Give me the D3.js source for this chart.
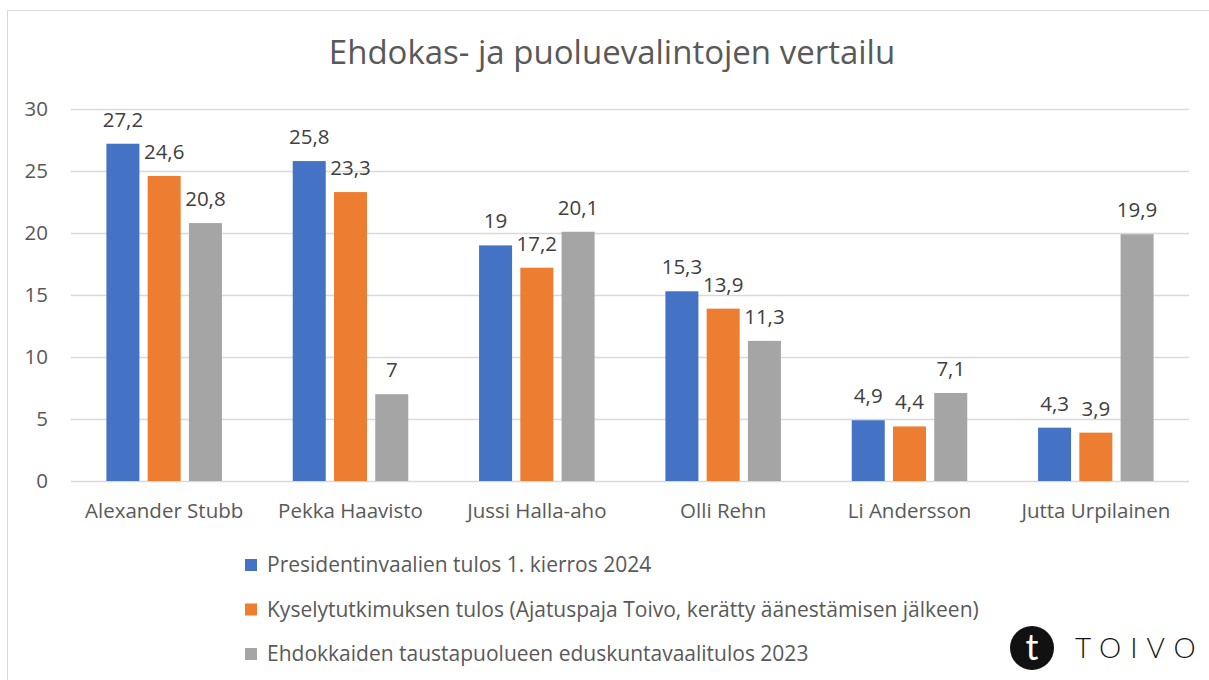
<!DOCTYPE html>
<html>
<head>
<meta charset="utf-8">
<script src="https://cdn.jsdelivr.net/npm/d3@7"></script>
<style>
  html, body { margin: 0; padding: 0; background: #fff; }
  svg { display: block; }
</style>
</head>
<body>
<svg id="chart" width="1209" height="680"></svg>
<script>
// Datos del gráfico
const categories = ['Alexander Stubb', 'Pekka Haavisto', 'Jussi Halla-aho', 'Olli Rehn', 'Li Andersson', 'Jutta Urpilainen'];
const seriesNames = [
  'Presidentinvaalien tulos 1. kierros 2024',
  'Kyselytutkimuksen tulos (Ajatuspaja Toivo, kerätty äänestämisen jälkeen)',
  'Ehdokkaiden taustapuolueen eduskuntavaalitulos 2023'
];
const presidential2024 = [27.2, 25.8, 19, 15.3, 4.9, 4.3];
const survey = [24.6, 23.3, 17.2, 13.9, 4.4, 3.9];
const parliamentary2023 = [20.8, 7, 20.1, 11.3, 7.1, 19.9];
const yTicks = [0, 5, 10, 15, 20, 25, 30];

const COLORS = ['#4472C4', '#ED7D31', '#A5A5A5'];
const FONT = '"Open Sans", "Noto Sans", sans-serif';
const TEXT_COLOR = '#595959';
const FS = 20.5;       // texto de ejes y etiquetas
const FS_LEGEND = 21;  // texto de la leyenda

const seriesValues = [presidential2024, survey, parliamentary2023];

const svg = d3.select('#chart');

// marco del área del gráfico
svg.append('rect')
  .attr('x', 7.5).attr('y', 10.5)
  .attr('width', 1215).attr('height', 690)
  .attr('fill', '#fff')
  .attr('stroke', '#d9d9d9');

// título
svg.append('text')
  .attr('x', 612).attr('y', 64)
  .attr('text-anchor', 'middle')
  .attr('font-family', FONT)
  .attr('font-size', 33)
  .attr('fill', TEXT_COLOR)
  .text('Ehdokas- ja puoluevalintojen vertailu');

const plot = { left: 71, right: 1189, top: 109, bottom: 481 };

const y = d3.scaleLinear().domain([0, 30]).range([plot.bottom, plot.top]);
const x0 = d3.scaleBand().domain(categories).range([plot.left, plot.right])
  .paddingInner(0.38).paddingOuter(0.19);
const x1 = d3.scaleBand().domain(d3.range(seriesNames.length)).range([0, x0.bandwidth()])
  .paddingInner(0.2).paddingOuter(0);

// líneas de cuadrícula + etiquetas del eje Y
const yAxis = svg.append('g')
  .attr('transform', `translate(${plot.left},0)`)
  .call(d3.axisLeft(y).tickValues(yTicks).tickSize(-(plot.right - plot.left)).tickPadding(23));
yAxis.select('.domain').remove();
yAxis.selectAll('.tick line').attr('stroke', '#d9d9d9').attr('stroke-width', 1.3);
yAxis.selectAll('.tick text')
  .attr('font-family', FONT).attr('font-size', FS).attr('fill', TEXT_COLOR);

// eje X (solo etiquetas)
const xAxis = svg.append('g')
  .attr('transform', `translate(0,${plot.bottom})`)
  .call(d3.axisBottom(x0).tickSize(0).tickPadding(22));
xAxis.select('.domain').remove();
xAxis.selectAll('.tick text')
  .attr('font-family', FONT).attr('font-size', FS).attr('fill', TEXT_COLOR);

// barras
const rows = categories.map((c, i) => ({ cat: c, vals: seriesValues.map(s => s[i]) }));
const groups = svg.append('g').selectAll('g.group')
  .data(rows).join('g')
  .attr('class', 'group')
  .attr('transform', d => `translate(${x0(d.cat)},0)`);

groups.selectAll('rect')
  .data(d => d.vals.map((v, k) => ({ v, k })))
  .join('rect')
  .attr('x', d => x1(d.k))
  .attr('y', d => y(d.v))
  .attr('width', x1.bandwidth())
  .attr('height', d => y(0) - y(d.v))
  .attr('fill', d => COLORS[d.k]);

const fmt = v => String(v).replace('.', ',');
groups.selectAll('text.val')
  .data(d => d.vals.map((v, k) => ({ v, k })))
  .join('text')
  .attr('class', 'val')
  .attr('x', d => x1(d.k) + x1.bandwidth() / 2)
  .attr('y', d => y(d.v) - 17)
  .attr('text-anchor', 'middle')
  .attr('font-family', FONT).attr('font-size', FS)
  .attr('fill', '#404040')
  .text(d => fmt(d.v));

// leyenda
const legend = svg.append('g').attr('transform', 'translate(245,565)');
const li = legend.selectAll('g').data(seriesNames).join('g')
  .attr('transform', (d, i) => `translate(0,${i * 44.5})`);
li.append('rect')
  .attr('x', 0).attr('y', -6).attr('width', 12).attr('height', 12)
  .attr('fill', (d, i) => COLORS[i]);
li.append('text')
  .attr('x', 22).attr('dy', '0.35em')
  .attr('font-family', FONT).attr('font-size', FS_LEGEND)
  .attr('fill', TEXT_COLOR)
  .text(d => d);

// logo TOIVO
const logo = svg.append('g').attr('transform', 'translate(1032,648)');
logo.append('circle').attr('r', 22).attr('fill', '#111');
logo.append('text')
  .attr('text-anchor', 'middle').attr('y', 12)
  .attr('font-family', 'Lato, sans-serif').attr('font-size', 36)
  .attr('fill', '#fff')
  .text('t');
logo.append('text')
  .attr('x', 43).attr('y', 10)
  .attr('font-family', 'Lato, sans-serif').attr('font-weight', 300)
  .attr('font-size', 28).attr('letter-spacing', 9)
  .attr('fill', '#111')
  .text('TOIVO');
</script>
</body>
</html>
